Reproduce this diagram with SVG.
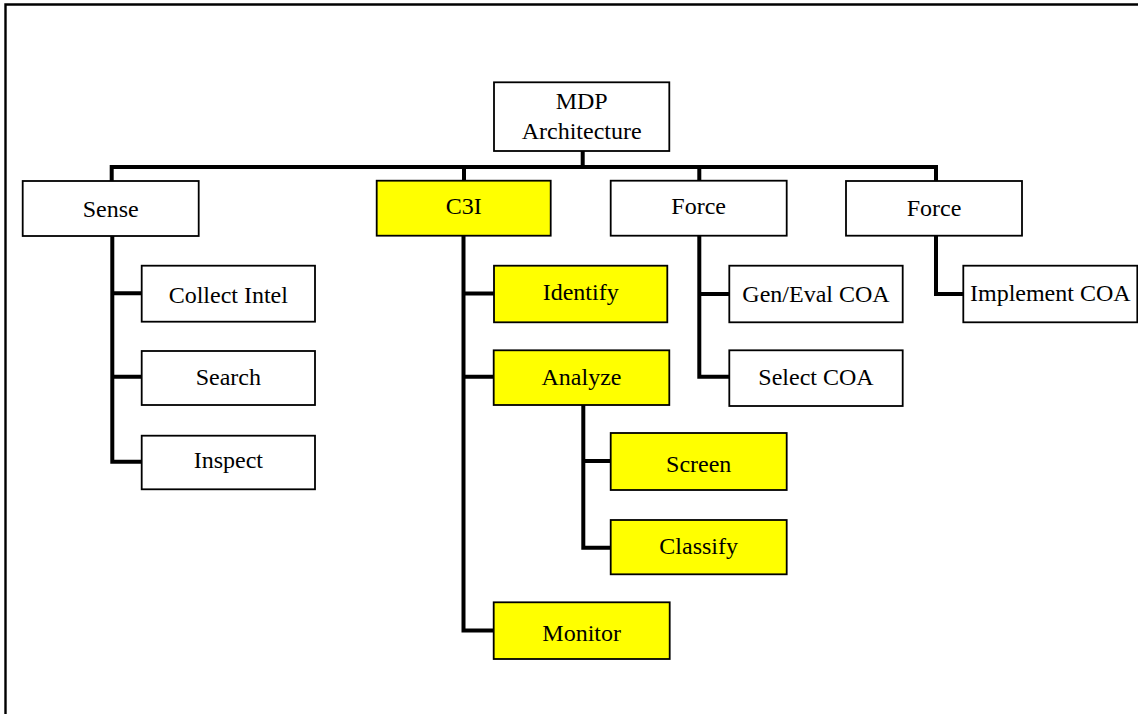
<svg xmlns="http://www.w3.org/2000/svg" width="1138" height="714" viewBox="0 0 1138 714">
<style>
.box{fill:#fff;stroke:#000;stroke-width:1.8}
.y{fill:#ffff00}
.t{font-family:"Liberation Serif","Times New Roman",serif;font-size:24px;fill:#000;text-anchor:middle}
.c{fill:none;stroke:#000;stroke-width:4;stroke-linejoin:miter}
</style>
<rect width="1138" height="714" fill="#fff"/>
<path d="M5.5,720 V4.5 H1145" fill="none" stroke="#000" stroke-width="2.4"/>
<g id="connectors">
<path class="c" d="M582.7,151 V167 M111.7,181 V167 H936 V181 M464,167 V181 M699.3,167 V181"/>
<path class="c" d="M112.3,236 V461.7 H141.7 M112.3,293.3 H141.7 M112.3,376.7 H141.7"/>
<path class="c" d="M463.5,236 V630.5 H494 M463.5,293.5 H494 M463.5,376.7 H494"/>
<path class="c" d="M583.3,405 V547.7 H610.7 M583.3,461 H610.7"/>
<path class="c" d="M699.3,236 V376.7 H729.3 M699.3,294 H729.3"/>
<path class="c" d="M936,236 V294 H963.3"/>
</g>
<g id="mdp"><rect class="box" x="494" y="82.3" width="175.3" height="68.7"/><text class="t" x="581.7" y="109.3">MDP</text><text class="t" x="581.7" y="139.3">Architecture</text></g>
<g id="sense"><rect class="box" x="22.7" y="181" width="176" height="55"/><text class="t" x="110.7" y="216.5">Sense</text></g>
<g id="c3i"><rect class="box y" x="376.7" y="180.7" width="174" height="55"/><text class="t" x="463.7" y="214">C3I</text></g>
<g id="force1"><rect class="box" x="610.7" y="180.7" width="176" height="55"/><text class="t" x="698.7" y="214">Force</text></g>
<g id="force2"><rect class="box" x="846" y="181" width="176" height="54.7"/><text class="t" x="934" y="215.5">Force</text></g>
<g id="collect"><rect class="box" x="141.7" y="265.7" width="173.3" height="56"/><text class="t" x="228.3" y="303">Collect Intel</text></g>
<g id="search"><rect class="box" x="141.7" y="351" width="173.3" height="54"/><text class="t" x="228.3" y="385">Search</text></g>
<g id="inspect"><rect class="box" x="141.7" y="435.7" width="173.3" height="53.6"/><text class="t" x="228.3" y="468.3">Inspect</text></g>
<g id="identify"><rect class="box y" x="494" y="265.7" width="173.3" height="56.6"/><text class="t" x="580.7" y="300">Identify</text></g>
<g id="analyze"><rect class="box y" x="493.7" y="350.3" width="175.6" height="54.7"/><text class="t" x="581.5" y="385">Analyze</text></g>
<g id="screen"><rect class="box y" x="610.7" y="433" width="176" height="57"/><text class="t" x="698.7" y="471.5">Screen</text></g>
<g id="classify"><rect class="box y" x="610.7" y="520" width="176" height="54.3"/><text class="t" x="698.7" y="554">Classify</text></g>
<g id="monitor"><rect class="box y" x="493.7" y="602.3" width="176" height="56.7"/><text class="t" x="581.7" y="640.5">Monitor</text></g>
<g id="geneval"><rect class="box" x="729.3" y="265.7" width="173.4" height="56.6"/><text class="t" x="816" y="302.3">Gen/Eval COA</text></g>
<g id="select"><rect class="box" x="729.3" y="350.3" width="173.4" height="55.7"/><text class="t" x="816" y="385">Select COA</text></g>
<g id="implement"><rect class="box" x="963.3" y="265.7" width="174" height="56.6"/><text class="t" x="1050.3" y="300.7">Implement COA</text></g>
</svg>
